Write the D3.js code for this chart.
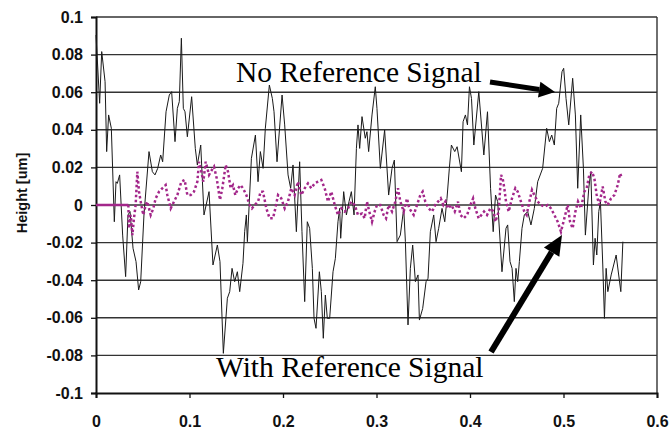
<!DOCTYPE html>
<html>
<head>
<meta charset="utf-8">
<script src="https://cdn.jsdelivr.net/npm/d3@7"></script>
<style>
  body { margin: 0; background: #fff; }
  svg { display: block; }
</style>
</head>
<body>
<div id="chart"></div>
<script>
// tick labels
var xTicks = [0, 0.1, 0.2, 0.3, 0.4, 0.5, 0.6];
var yTicks = [-0.1, -0.08, -0.06, -0.04, -0.02, 0, 0.02, 0.04, 0.06, 0.08, 0.1];

// "No Reference Signal" (solid black)
var noRefX = [0.0000,0.0039,0.0061,0.0097,0.0114,0.0135,0.0164,0.0196,0.0214,0.0228,0.0253,0.0285,0.0317,0.0342,0.0364,0.0396,0.0428,0.0456,0.0478,0.0513,0.0567,0.0603,0.0631,0.0660,0.0692,0.0713,0.0749,0.0784,0.0809,0.0845,0.0870,0.0891,0.0913,0.0934,0.0952,0.0977,0.1023,0.1062,0.1084,0.1120,0.1155,0.1209,0.1251,0.1298,0.1326,0.1362,0.1405,
  0.1430,0.1455,0.1483,0.1512,0.1537,0.1572,0.1590,0.1608,0.1619,0.1662,0.1705,0.1733,0.1758,0.1787,0.1811,0.1854,0.1886,0.1904,0.1936,0.1990,0.2018,0.2054,0.2082,0.2107,0.2143,0.2178,0.2203,0.2232,0.2260,0.2285,0.2314,0.2332,0.2353,0.2389,0.2410,0.2431,0.2453,0.2474,0.2499,0.2535,0.2560,0.2588,0.2606,0.2617,0.2649,0.2678,0.2706,0.2731,0.2760,0.2785,0.2802,0.2820,0.2845,
  0.2880,0.2898,0.2916,0.2952,0.2987,0.3005,0.3041,0.3087,0.3130,0.3166,0.3191,0.3220,0.3255,0.3291,0.3309,0.3337,0.3362,0.3387,0.3416,0.3444,0.3459,0.3494,0.3530,0.3551,0.3576,0.3612,0.3637,0.3665,0.3701,0.3730,0.3754,0.3779,0.3801,0.3837,0.3862,0.3908,0.3926,0.3951,0.3973,0.3994,0.4016,0.4041,0.4094,0.4148,0.4187,0.4220,0.4248,0.4273,
  0.4296,0.4342,0.4385,0.4403,0.4428,0.4450,0.4474,0.4492,0.4510,0.4528,0.4556,0.4581,0.4617,0.4652,0.4688,0.4724,0.4777,0.4820,0.4849,0.4874,0.4902,0.4927,0.4949,0.4984,0.5002,0.5027,0.5056,0.5098,0.5127,0.5152,0.5184,0.5213,0.5234,0.5270,0.5292,0.5320,0.5338,0.5356,0.5377,0.5395,0.5420,0.5438,0.5456,0.5474,0.5510,0.5563,0.5613,0.5635];
var noRefY = [0.0904,0.0541,0.0816,0.0656,0.0284,0.0479,0.0408,-0.0089,0.0124,0.0115,0.0160,-0.0160,-0.0381,-0.0053,-0.0035,-0.0230,-0.0301,-0.0452,-0.0408,-0.0053,0.0284,0.0177,0.0160,0.0195,0.0266,0.0230,0.0496,0.0585,0.0603,0.0337,0.0514,0.0550,0.0887,0.0514,0.0496,0.0363,0.0576,0.0301,0.0213,0.0319,-0.0053,0.0071,-0.0319,-0.0213,-0.0301,-0.0789,-0.0496,
  -0.0461,-0.0337,-0.0408,-0.0355,-0.0461,-0.0310,-0.0142,-0.0053,-0.0195,0.0248,0.0372,0.0124,0.0284,0.0195,0.0408,0.0638,0.0567,0.0496,0.0230,0.0585,0.0426,0.0160,0.0089,0.0213,-0.0142,0.0230,-0.0142,-0.0514,-0.0089,-0.0124,-0.0337,-0.0603,-0.0656,-0.0355,-0.0461,-0.0709,-0.0479,-0.0603,-0.0603,-0.0355,-0.0284,-0.0089,-0.0018,-0.0177,0.0071,-0.0053,0.0018,0.0071,-0.0053,0.0301,0.0426,0.0301,0.0470,
  0.0355,0.0390,0.0284,0.0479,0.0629,0.0514,0.0195,0.0399,0.0053,0.0195,0.0239,-0.0195,-0.0160,-0.0018,-0.0195,-0.0638,-0.0337,-0.0213,-0.0408,-0.0372,-0.0612,-0.0550,-0.0408,-0.0390,-0.0142,-0.0053,-0.0195,-0.0124,-0.0018,-0.0089,0.0035,0.0195,0.0319,0.0284,0.0310,0.0177,0.0443,0.0479,0.0426,0.0629,0.0567,0.0319,0.0603,0.0266,0.0496,0.0089,-0.0142,0.0053,
  0.0018,-0.0355,-0.0124,-0.0106,-0.0301,-0.0337,-0.0514,-0.0337,-0.0408,-0.0301,-0.0124,-0.0053,-0.0035,-0.0106,-0.0018,0.0124,0.0195,0.0408,0.0337,0.0372,0.0319,0.0514,0.0541,0.0709,0.0727,0.0567,0.0426,0.0674,0.0479,0.0089,0.0479,0.0195,-0.0160,0.0089,0.0177,-0.0319,-0.0177,-0.0266,-0.0035,0.0018,-0.0319,-0.0603,-0.0337,-0.0461,-0.0372,-0.0266,-0.0461,-0.0195];

// "With Reference Signal" (magenta dotted); flat at zero until withRefStart
var withRefStart = 0.0346;
var withRefX = [0,0.0346,0.0353,0.0371,0.0389,0.0406,0.0424,0.0442,0.0460,0.0478,0.0506,0.0531,0.0549,0.0585,0.0613,0.0638,0.0674,0.0709,0.0745,0.0763,0.0799,0.0834,0.0870,0.0913,0.0948,0.0977,0.1013,0.1048,0.1084,0.1102,0.1127,0.1148,0.1173,0.1209,0.1227,0.1262,0.1291,0.1326,0.1351,0.1387,
  0.1412,0.1440,0.1465,0.1490,0.1519,0.1547,0.1572,0.1608,0.1643,0.1668,0.1697,0.1733,0.1761,0.1786,0.1822,0.1857,0.1893,0.1918,0.1947,0.1982,0.2018,0.2053,0.2089,0.2125,0.2160,0.2196,0.2232,0.2267,0.2303,0.2339,0.2374,0.2410,0.2446,0.2481,0.2517,0.2553,0.2588,0.2624,0.2660,0.2695,0.2731,0.2767,0.2802,
  0.2845,0.2873,0.2898,0.2923,0.2952,0.2980,0.3005,0.3041,0.3076,0.3102,0.3130,0.3166,0.3201,0.3230,0.3255,0.3291,0.3326,0.3351,0.3398,0.3433,0.3469,0.3494,0.3522,0.3558,0.3594,0.3629,0.3658,0.3687,0.3715,0.3737,0.3765,0.3801,0.3837,0.3872,0.3897,0.3933,0.3969,0.4004,0.4033,0.4057,0.4093,0.4122,0.4150,0.4182,0.4218,0.4253,0.4271,
  0.4307,0.4332,0.4349,0.4367,0.4385,0.4414,0.4449,0.4485,0.4510,0.4545,0.4581,0.4606,0.4635,0.4663,0.4688,0.4724,0.4759,0.4795,0.4831,0.4866,0.4902,0.4938,0.4973,0.5009,0.5045,0.5070,0.5098,0.5127,0.5155,0.5187,0.5223,0.5248,0.5276,0.5305,0.5330,0.5355,0.5383,0.5419,0.5448,0.5472,0.5508,0.5544,0.5580,0.5605,0.5626];
var withRefY = [0,0,-0.0124,-0.0053,-0.0160,-0.0071,0,0.0177,0.0071,0.0018,-0.0053,0,0.0018,-0.0053,-0.0018,0.0035,0.0071,0.0089,0.0106,0.0053,-0.0018,0.0018,0.0053,0.0124,0.0133,0.0053,0.0053,0.0071,0.0124,0.0230,0.0177,0.0124,0.0230,0.0160,0.0177,0.0204,0.0142,0.0027,0.0089,0.0213,
  0.0177,0.0089,0.0106,0.0053,0.0089,0.0106,0.0089,0.0053,0,-0.0018,0,0.0018,0.0071,0.0071,-0.0018,-0.0071,-0.0071,-0.0018,0.0053,0.0035,-0.0018,0.0018,0.0089,0.0053,0.0124,0.0053,0.0089,0.0115,0.0089,0.0115,0.0124,0.0133,0.0089,0.0018,0.0071,0,-0.0053,-0.0018,-0.0035,-0.0018,0.0018,0,-0.0053,
  -0.0045,-0.0071,0.0018,-0.0035,-0.0089,-0.0035,0,0,-0.0053,-0.0071,0,-0.0035,0.0018,0.0089,0.0018,-0.0035,0.0035,-0.0018,-0.0053,0,0.0053,0.0071,0.0018,-0.0018,-0.0035,0,0.0018,0.0035,0,0.0018,-0.0018,0,-0.0035,0.0018,-0.0053,-0.0071,-0.0053,0,0.0035,-0.0018,-0.0071,-0.0053,-0.0035,-0.0053,-0.0018,-0.0035,-0.0089,
  -0.0035,0.0160,0.0142,0.0089,0.0018,-0.0035,0.0035,0.0089,0.0071,0.0018,-0.0035,-0.0053,0.0018,0.0080,0.0053,0.0018,0,-0.0009,0,-0.0018,-0.0053,-0.0089,-0.0142,-0.0071,0,-0.0089,-0.0124,-0.0035,0.0018,-0.0018,0.0071,0.0089,0.0160,0.0177,0.0142,0.0053,0,0.0098,0.0018,0,0.0035,0.0053,0.0106,0.0168,0.0142];

var W = 669, H = 436;
var mLeft = 96, mRight = 657, mTop = 17, mBottom = 393;

var svg = d3.select('#chart').append('svg').attr('width', W).attr('height', H);

var x = d3.scaleLinear().domain([0, 0.6]).range([mLeft, mRight]);
var y = d3.scaleLinear().domain([-0.1, 0.1]).range([mBottom, mTop]);

// horizontal gridlines (top one doubles as the border)
svg.append('g').selectAll('line')
  .data(yTicks.filter(d => d > -0.1))
  .enter().append('line')
  .attr('x1', mLeft).attr('x2', mRight)
  .attr('y1', d => y(d)).attr('y2', d => y(d))
  .attr('stroke', '#333').attr('stroke-width', 1.4);

// right border
svg.append('line')
  .attr('x1', mRight).attr('x2', mRight).attr('y1', mTop).attr('y2', mBottom)
  .attr('stroke', '#333').attr('stroke-width', 1.4);

// axes
var yAxis = svg.append('g').attr('transform', `translate(${mLeft},0)`)
  .call(d3.axisLeft(y).tickValues(yTicks).tickSize(5).tickPadding(8)
    .tickFormat(d => String(+d.toFixed(2))));
var xAxis = svg.append('g').attr('transform', `translate(0,${mBottom})`)
  .call(d3.axisBottom(x).tickValues(xTicks).tickSize(5).tickPadding(18)
    .tickFormat(d => String(+d.toFixed(1))));

[yAxis, xAxis].forEach(function(a) {
  a.select('.domain').attr('stroke', '#111').attr('stroke-width', 2);
  a.selectAll('.tick line').attr('stroke', '#111').attr('stroke-width', 1.3);
  a.selectAll('.tick text')
    .attr('fill', '#111')
    .style('font-family', '"Liberation Sans", Arial, sans-serif')
    .style('font-weight', 'bold')
    .style('font-size', '16px');
});

// y title
svg.append('text')
  .attr('transform', 'translate(27,193) rotate(-90)')
  .attr('text-anchor', 'middle')
  .style('font-family', '"Liberation Sans", Arial, sans-serif')
  .style('font-weight', 'bold')
  .style('font-size', '14.5px')
  .attr('fill', '#111')
  .text('Height [um]');

// series
var noRef = noRefX.map((v, i) => [v, noRefY[i]]);
var withRef = withRefX.map((v, i) => [v, withRefY[i]]);
var line = d3.line().x(d => x(d[0])).y(d => y(d[1]));

svg.append('path')
  .datum(noRef)
  .attr('d', line)
  .attr('fill', 'none')
  .attr('stroke', '#1a1a1a')
  .attr('stroke-width', 1)
  .attr('stroke-linejoin', 'round');

var magenta = '#a3278a';
svg.append('path')
  .datum(withRef.filter(d => d[0] <= withRefStart))
  .attr('d', line)
  .attr('fill', 'none')
  .attr('stroke', magenta)
  .attr('stroke-width', 2.5);
svg.append('path')
  .datum(withRef.filter(d => d[0] >= withRefStart))
  .attr('d', line)
  .attr('fill', 'none')
  .attr('stroke', magenta)
  .attr('stroke-width', 2.5)
  .attr('stroke-dasharray', '2.5,2.5');

// annotations
function arrow(x1, y1, x2, y2, w, hl, hw) {
  var ang = Math.atan2(y2 - y1, x2 - x1);
  var bx = x2 - hl * Math.cos(ang), by = y2 - hl * Math.sin(ang);
  svg.append('line')
    .attr('x1', x1).attr('y1', y1).attr('x2', bx).attr('y2', by)
    .attr('stroke', '#000').attr('stroke-width', w);
  var px = -Math.sin(ang) * hw, py = Math.cos(ang) * hw;
  svg.append('path')
    .attr('d', `M${x2},${y2}L${bx + px},${by + py}L${bx - px},${by - py}Z`)
    .attr('fill', '#000');
}

svg.append('text')
  .attr('x', 236).attr('y', 82)
  .style('font-family', '"Liberation Serif", "Times New Roman", serif')
  .style('font-size', '29.5px')
  .attr('fill', '#000')
  .text('No Reference Signal');
arrow(490, 82, 555, 92, 5, 16, 8);

svg.append('text')
  .attr('x', 216).attr('y', 377)
  .style('font-family', '"Liberation Serif", "Times New Roman", serif')
  .style('font-size', '29.5px')
  .attr('fill', '#000')
  .text('With Reference Signal');
arrow(491, 352, 562, 235, 6, 20, 9);
</script>
</body>
</html>
